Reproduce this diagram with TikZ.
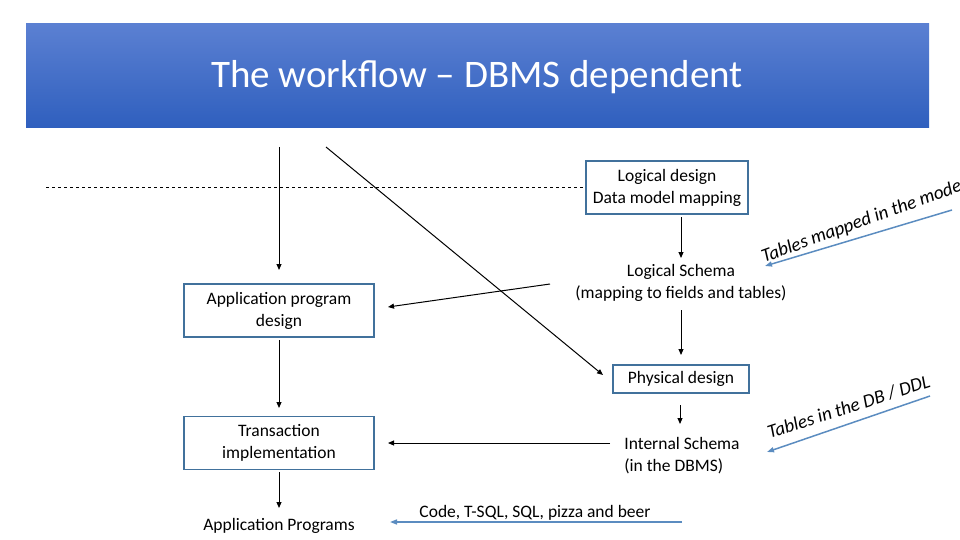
\documentclass[tikz,border=0pt]{standalone}
\usepackage{fontspec}
\setmainfont{Carlito}
\usetikzlibrary{arrows.meta}
\definecolor{bluea}{HTML}{5B80D2}
\definecolor{blueb}{HTML}{2F5FBE}
\definecolor{boxc}{HTML}{41719C}
\definecolor{arrb}{HTML}{5B8CC0}
\begin{document}
\begin{tikzpicture}[x=1pt,y=-1pt,
  box/.style={draw=boxc,line width=1.2pt,minimum width=190pt,minimum height=53pt,align=center,font=\fontsize{17.5}{22}\selectfont,inner sep=2pt},
  txt/.style={align=center,font=\fontsize{17.5}{22}\selectfont},
  arr/.style={-{Triangle[length=6pt,width=5pt]},line width=1pt},
  barr/.style={-{Triangle[length=7pt,width=5pt]},line width=1.5pt,draw=arrb},
  rot/.style={font=\fontsize{19}{22}\selectfont\itshape,anchor=south west,inner sep=0pt}]
\useasboundingbox (0,0) rectangle (960,540);
\shade[top color=bluea,bottom color=blueb] (26,24) rectangle (929,128);
\node[text=white,font=\fontsize{39}{44}\selectfont] (title) at (477,77) {The workflow – DBMS dependent};
\draw[dashed,line width=0.6pt] (46,187) -- (585,187);
\node[box,minimum width=162pt] (ld) at (667,187.5) {Logical design\\Data model mapping};
\node[txt] (ls) at (681,283) {Logical Schema\\(mapping to fields and tables)};
\node[box] (apd) at (279,310.5) {Application program\\design};
\node[box,minimum width=136pt,minimum height=28pt] (pd) at (681,379) {Physical design};
\node[box] (ti) at (279,443) {Transaction\\implementation};
\node[txt,align=left] (is) at (682,456) {Internal Schema\\(in the DBMS)};
\node[txt] (ap) at (279,526) {Application Programs};
\node[txt] (code) at (535,513) {Code, T-SQL, SQL, pizza and beer};
\coordinate (s1) at (279,147);
\coordinate (s2) at (326,147);
\coordinate (c1) at (682,522);
\coordinate (c2) at (390,522);
\coordinate (m1) at (952,210);
\coordinate (m2) at (765,266);
\coordinate (d1) at (930,396);
\coordinate (d2) at (767,452);
\coordinate (h1) at (550,284);
\coordinate (h2) at (388,307);
\coordinate (i1) at (610,443);
\coordinate (i2) at (388,443);
\draw[arr] (s1) -- (279,270);
\draw[arr] (s2) -- (603,375);
\draw[arr] (681,217) -- (681,258);
\draw[arr] (681,310) -- (681,355);
\draw[arr] (h1) -- (h2);
\draw[arr] (279,340) -- (279,408);
\draw[arr] (680,405) -- (680,424);
\draw[arr] (i1) -- (i2);
\draw[arr] (279,472) -- (279,508);
\draw[barr] (c1) -- (c2);
\draw[barr] (m1) -- (m2);
\draw[barr] (d1) -- (d2);
\node[rot,rotate=20] (t1) at (765,266) {Tables mapped in the model};
\node[rot,rotate=18] (t2) at (770,440) {Tables in the DB / DDL};
\end{tikzpicture}
\end{document}
